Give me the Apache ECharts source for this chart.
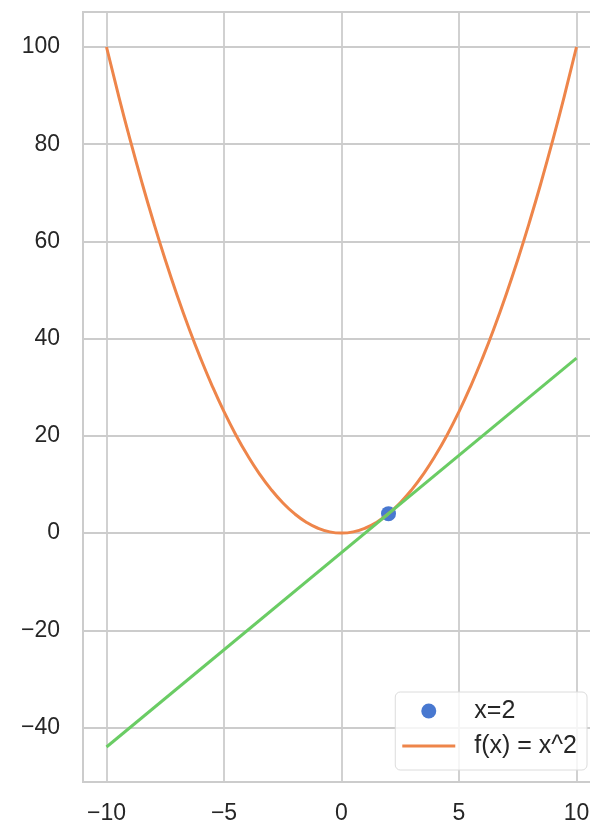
<!DOCTYPE html>
<html>
<head>
<meta charset="utf-8">
<script src="https://cdn.jsdelivr.net/npm/echarts@6/dist/echarts.min.js"></script>
<style>html,body{margin:0;padding:0;background:#fff;}#chart{width:590px;height:825px;}</style>
</head>
<body>
<div id="chart"></div>
<script>
// Tick values
const xTicks = [-10, -5, 0, 5, 10];
const yTicks = [-40, -20, 0, 20, 40, 60, 80, 100];
// Parabola f(x) = x^2 sampled points
const curveX = [-10,-9.5,-9,-8.5,-8,-7.5,-7,-6.5,-6,-5.5,-5,-4.5,-4,-3.5,-3,-2.5,-2,-1.5,-1,-0.5,0,0.5,1,1.5,2,2.5,3,3.5,4,4.5,5,5.5,6,6.5,7,7.5,8,8.5,9,9.5,10];
const curveY = [100,90.25,81,72.25,64,56.25,49,42.25,36,30.25,25,20.25,16,12.25,9,6.25,4,2.25,1,0.25,0,0.25,1,2.25,4,6.25,9,12.25,16,20.25,25,30.25,36,42.25,49,56.25,64,72.25,81,90.25,100];
// Tangent line at x=2
const tangentX = [-10, 10];
const tangentY = [-44, 36];
// Highlighted point
const pointX = [2];
const pointY = [4];
const seriesNames = ['x=2', 'f(x) = x^2'];

const zip = (a, b) => a.map((v, i) => [v, b[i]]);
const fmt = v => String(v).replace('-', '\u2212');
const textColor = '#262626';
const gridColor = '#cccccc';
const font = 'Liberation Sans';

const chart = echarts.init(document.getElementById('chart'), null, {renderer: 'canvas'});
chart.setOption({
  animation: false,
  backgroundColor: '#ffffff',
  grid: {
    left: 83, top: 12, bottom: 43, right: -10,
    show: true, borderColor: gridColor, borderWidth: 2,
    containLabel: false, outerBoundsMode: 'none'
  },
  xAxis: {
    type: 'value', min: -11, max: 11,
    axisLine: {show: false},
    axisTick: {show: false, customValues: xTicks},
    splitLine: {show: true, lineStyle: {color: gridColor, width: 1.8}},
    axisLabel: {customValues: xTicks, formatter: fmt, color: textColor, fontSize: 23, fontFamily: font, margin: 20}
  },
  yAxis: {
    type: 'value', min: -51.2, max: 107.2,
    axisLine: {show: false},
    axisTick: {show: false, customValues: yTicks},
    splitLine: {show: true, lineStyle: {color: gridColor, width: 1.8}},
    axisLabel: {customValues: yTicks, formatter: fmt, color: textColor, fontSize: 23, fontFamily: font, margin: 23}
  },
  legend: {
    data: [
      {name: seriesNames[0], icon: 'circle'},
      {name: seriesNames[1], icon: 'path://M0,0H53V3H0Z'}
    ],
    orient: 'vertical',
    right: 3, bottom: 55,
    backgroundColor: 'rgba(255,255,255,0.8)',
    borderColor: '#dcdcdc', borderWidth: 1, borderRadius: 5,
    padding: [6, 10, 11, 7],
    itemGap: 9, itemWidth: 53, itemHeight: 15,
    textStyle: {color: textColor, fontSize: 25, lineHeight: 26, fontFamily: font, padding: [0, 0, 0, 14]}
  },
  series: [
    {
      name: seriesNames[0], type: 'scatter',
      data: zip(pointX, pointY),
      symbol: 'circle', symbolSize: 15,
      itemStyle: {color: '#4878d0', opacity: 1}
    },
    {
      name: seriesNames[1], type: 'line',
      data: zip(curveX, curveY),
      showSymbol: false, symbol: 'none', smooth: true,
      lineStyle: {color: '#ee854a', width: 3},
      itemStyle: {color: '#ee854a'}
    },
    {
      name: 'tangent', type: 'line',
      data: zip(tangentX, tangentY),
      showSymbol: false, symbol: 'none',
      lineStyle: {color: '#6acc64', width: 3},
      itemStyle: {color: '#6acc64'}
    }
  ]
});
</script>
</body>
</html>
